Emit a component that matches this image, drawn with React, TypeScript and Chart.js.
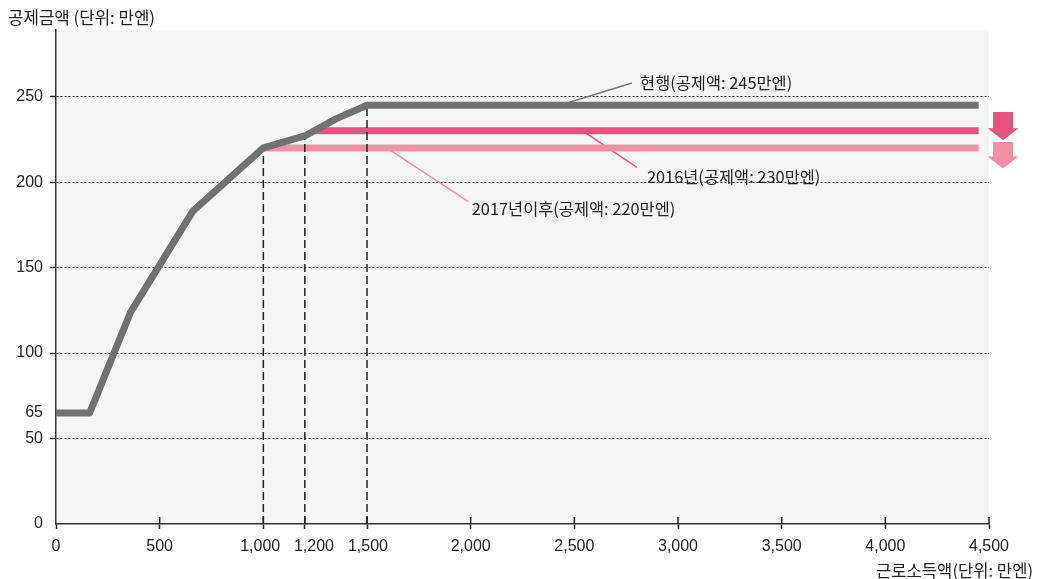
import React, { useEffect, useRef } from 'react';
import { Chart, registerables } from 'chart.js';

Chart.register(...registerables);

// 근로소득액 axis ticks (만엔)
const xTicks = [0, 500, 1000, 1200, 1500, 2000, 2500, 3000, 3500, 4000, 4500];
// 공제금액 axis ticks (만엔)
const yTicks = [0, 50, 65, 100, 150, 200, 250];

// 현행 급여소득공제 curve
const currentIncome = [0, 162.5, 360, 660, 1000, 1200, 1350, 1500, 4450];
const currentDeduction = [65, 65, 124, 183, 220, 227, 237, 245, 245];

// 2016년 cap (230만엔)
const cap2016Income = [1250, 4450];
const cap2016Deduction = [230, 230];

// 2017년 이후 cap (220만엔)
const cap2017Income = [1000, 4450];
const cap2017Deduction = [220, 220];

// dashed guides at the income thresholds
const thresholdIncome = [1000, 1200, 1500];
const thresholdDeduction = [220, 227, 245];

const GRAY = '#717171';
const PINK = '#e8527f';
const LIGHT_PINK = '#f08fa7';
const INK = '#222222';

const KR_FONT = '"Noto Sans CJK KR", "Noto Sans", sans-serif';
const NUM_FONT = '"Liberation Sans", Arial, sans-serif';
const TICK_FONT = `16px ${NUM_FONT}`;

// callouts: leader line from a point on a series to the label
const callouts = [
  { text: '현행(공제액: 245만엔)', color: '#7a7a7a', from: [2430, 245], to: [2778, 258], at: [2817, 258.2] },
  { text: '2016년(공제액: 230만엔)', color: PINK, from: [2540, 230], to: [2802, 208.7], at: [2850, 203.2] },
  { text: '2017년이후(공제액: 220만엔)', color: LIGHT_PINK, from: [1595, 220], to: [1989, 188.6], at: [2005, 184.7] },
];

// reduction arrows beside the caps (top / tip in deduction units)
const reductionArrows = [
  { top: 241, tip: 224.5, color: PINK },
  { top: 223.5, tip: 208, color: LIGHT_PINK },
];

const toPoints = (xs: number[], ys: number[]) => xs.map((x, i) => ({ x, y: ys[i] }));
const formatIncome = (v: number) => v.toLocaleString('en-US');

// x labels are drawn here so close neighbours (1,000 / 1,200) can be spread apart
function drawXLabels(chart: any) {
  const { ctx, chartArea } = chart;
  const xs = chart.scales.x;
  ctx.save();
  ctx.font = TICK_FONT;
  const items = xTicks.map((v) => {
    const text = formatIncome(v);
    return { text, cx: xs.getPixelForValue(v), w: ctx.measureText(text).width };
  });
  const minGap = 14;
  for (let i = 1; i < items.length; i++) {
    const a = items[i - 1];
    const b = items[i];
    const need = (a.w + b.w) / 2 + minGap - (b.cx - a.cx);
    if (need > 0) {
      a.cx -= need * 0.25;
      b.cx += need * 0.75;
    }
  }
  ctx.fillStyle = INK;
  ctx.textAlign = 'center';
  ctx.textBaseline = 'middle';
  for (const it of items) ctx.fillText(it.text, it.cx, chartArea.bottom + 23);
  ctx.restore();
}

const decorPlugin = {
  id: 'decor',
  beforeDraw(chart: any) {
    const { ctx, chartArea } = chart;
    ctx.save();
    ctx.fillStyle = '#f5f7f7';
    ctx.fillRect(chartArea.left, chartArea.top, chartArea.right - chartArea.left, chartArea.bottom - chartArea.top);
    ctx.restore();
  },
  beforeDatasetsDraw(chart: any) {
    const { ctx } = chart;
    const xs = chart.scales.x;
    const ys = chart.scales.y;
    ctx.save();
    ctx.lineWidth = 1.5;
    for (const c of callouts) {
      ctx.strokeStyle = c.color;
      ctx.beginPath();
      ctx.moveTo(xs.getPixelForValue(c.from[0]), ys.getPixelForValue(c.from[1]));
      ctx.lineTo(xs.getPixelForValue(c.to[0]), ys.getPixelForValue(c.to[1]));
      ctx.stroke();
    }
    ctx.restore();
  },
  afterDraw(chart: any) {
    const { ctx, chartArea, width, height } = chart;
    const xs = chart.scales.x;
    const ys = chart.scales.y;
    ctx.save();

    // x tick marks rising above the axis line
    ctx.strokeStyle = INK;
    ctx.lineWidth = 1.5;
    for (const v of xTicks) {
      if (v === 0) continue;
      const px = xs.getPixelForValue(v);
      ctx.beginPath();
      ctx.moveTo(px, chartArea.bottom - 7);
      ctx.lineTo(px, chartArea.bottom);
      ctx.stroke();
    }

    drawXLabels(chart);

    // callout labels
    ctx.fillStyle = INK;
    ctx.font = `16.4px ${KR_FONT}`;
    ctx.textAlign = 'left';
    ctx.textBaseline = 'middle';
    for (const c of callouts) {
      ctx.fillText(c.text, xs.getPixelForValue(c.at[0]), ys.getPixelForValue(c.at[1]));
    }

    // block arrows on the right
    const cx = chartArea.right + 14;
    for (const a of reductionArrows) {
      const top = ys.getPixelForValue(a.top);
      const tip = ys.getPixelForValue(a.tip);
      const neck = tip - 12;
      ctx.fillStyle = a.color;
      ctx.beginPath();
      ctx.moveTo(cx - 10, top);
      ctx.lineTo(cx + 10, top);
      ctx.lineTo(cx + 10, neck);
      ctx.lineTo(cx + 15.5, neck);
      ctx.lineTo(cx, tip);
      ctx.lineTo(cx - 15.5, neck);
      ctx.lineTo(cx - 10, neck);
      ctx.closePath();
      ctx.fill();
    }

    // axis titles
    ctx.fillStyle = INK;
    ctx.font = `16.8px ${KR_FONT}`;
    ctx.textAlign = 'left';
    ctx.fillText('공제금액 (단위: 만엔)', 8, 18);
    ctx.font = `16.6px ${KR_FONT}`;
    ctx.textAlign = 'right';
    ctx.fillText('근로소득액(단위: 만엔)', width - 7, height - 8);

    ctx.restore();
  },
};

export default function App() {
  const canvasRef = useRef<HTMLCanvasElement | null>(null);

  useEffect(() => {
    if (!canvasRef.current) return;
    Chart.defaults.font.family = NUM_FONT;

    const datasets: any[] = [
      {
        label: '현행',
        data: toPoints(currentIncome, currentDeduction),
        borderColor: GRAY,
        borderWidth: 7,
        borderJoinStyle: 'round',
        pointRadius: 0,
        tension: 0,
      },
      ...thresholdIncome.map((x, i) => ({
        label: `기준 ${x}`,
        data: [{ x, y: 0 }, { x, y: thresholdDeduction[i] }],
        borderColor: INK,
        borderWidth: 1.5,
        borderDash: [8, 4],
        pointRadius: 0,
      })),
      {
        label: '2016년',
        data: toPoints(cap2016Income, cap2016Deduction),
        borderColor: PINK,
        borderWidth: 7,
        pointRadius: 0,
      },
      {
        label: '2017년이후',
        data: toPoints(cap2017Income, cap2017Deduction),
        borderColor: LIGHT_PINK,
        borderWidth: 7,
        pointRadius: 0,
      },
    ];

    const chart = new Chart(canvasRef.current, {
      type: 'line',
      data: { datasets },
      options: {
        animation: false,
        responsive: false,
        devicePixelRatio: 1,
        layout: { padding: { top: 30, right: 51, left: 0, bottom: 0 } },
        plugins: { legend: { display: false }, tooltip: { enabled: false } },
        scales: {
          x: {
            type: 'linear',
            min: 0,
            max: 4500,
            afterFit: (s: any) => { s.height = 55; },
            afterBuildTicks: (s: any) => { s.ticks = xTicks.map((value) => ({ value })); },
            ticks: {
              autoSkip: false,
              maxRotation: 0,
              padding: 9,
              color: 'rgba(0,0,0,0)',
              font: { size: 16, family: NUM_FONT },
              callback: (v: any) => formatIncome(Number(v)),
            },
            grid: {
              drawOnChartArea: false,
              drawTicks: true,
              tickLength: 5,
              tickWidth: 1.5,
              tickColor: INK,
            },
            border: { display: true, color: '#333333', width: 1.5 },
          },
          y: {
            type: 'linear',
            min: 0,
            max: 289,
            afterFit: (s: any) => { s.width = 56; },
            afterBuildTicks: (s: any) => { s.ticks = yTicks.map((value) => ({ value })); },
            ticks: {
              autoSkip: false,
              padding: 7,
              color: INK,
              font: { size: 16, family: NUM_FONT },
            },
            grid: {
              color: (c: any) => (c.tick && (c.tick.value === 65 || c.tick.value === 0) ? 'rgba(0,0,0,0)' : '#2a2a2a'),
              lineWidth: 1,
              tickLength: 6,
              tickWidth: 1.5,
              tickColor: (c: any) => (c.tick && (c.tick.value === 65 || c.tick.value === 0) ? 'rgba(0,0,0,0)' : INK),
            },
            border: { display: true, color: '#333333', width: 1.5, dash: [2, 2] },
          },
        },
      },
      plugins: [decorPlugin],
    } as any);

    return () => chart.destroy();
  }, []);

  return (
    <div style={{ position: 'fixed', left: 0, top: 0, width: 1040, height: 579, background: '#ffffff' }}>
      <canvas ref={canvasRef} width={1040} height={579} style={{ display: 'block' }} />
    </div>
  );
}
